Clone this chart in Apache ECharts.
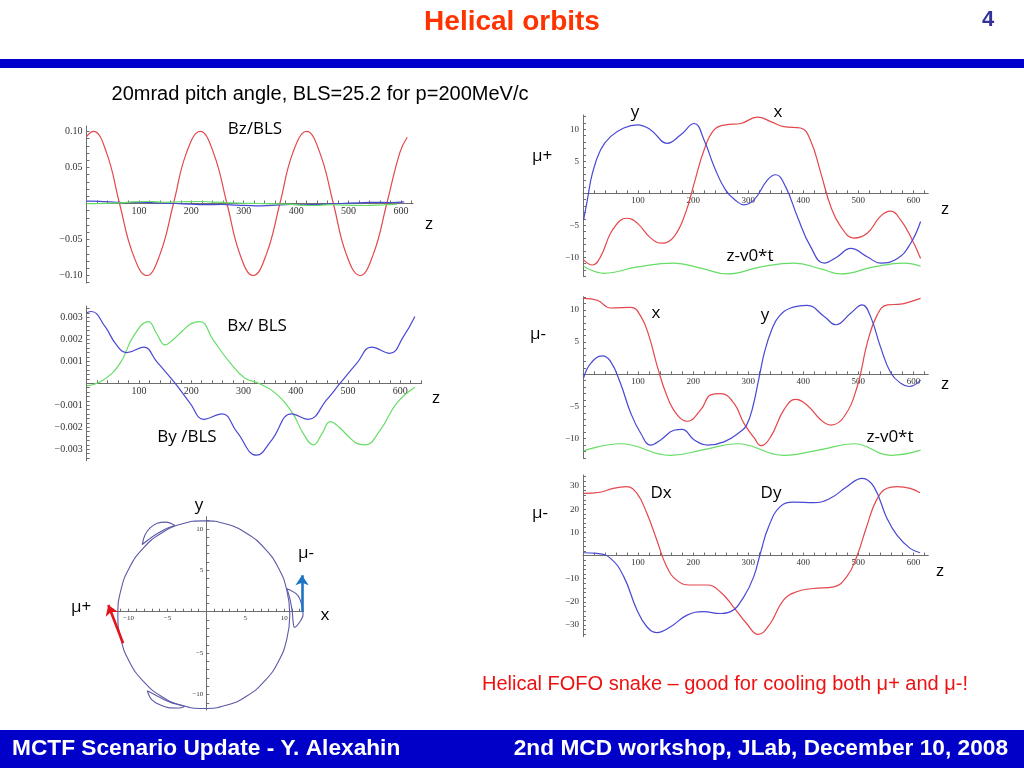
<!DOCTYPE html>
<html><head><meta charset="utf-8">
<script src="https://cdn.jsdelivr.net/npm/echarts@6/dist/echarts.min.js"></script>
<style>html,body{margin:0;padding:0;background:#fff}#c{width:1024px;height:768px}</style>
</head><body><div id="c"></div>
<script>
// ---------- data ----------
const zLabels = [100, 200, 300, 400, 500, 600];
const bzLabels = [-0.1, -0.05, 0.05, 0.1];
const bxLabels = [-0.003, -0.002, -0.001, 0.001, 0.002, 0.003];
const orbLabels = [-10, -5, 5, 10];
const dLabels = [-30, -20, -10, 10, 20, 30];

const bzData = [[0,0.093],[13,0.100],[38,0.071],[63,0],[89,-0.071],[115,-0.100],[140,-0.071],[166,0],[191,0.071],[217,0.100],[242,0.071],[268,0],[293,-0.071],[318,-0.100],[343,-0.071],[369,0],[394,0.071],[420,0.100],[445,0.071],[471,0],[496,-0.071],[522,-0.100],[547,-0.071],[573,0],[598,0.071],[612,0.092]];
const byData = [[0,0.0032],[9,0.00326],[35,0.00258],[57,0.00174],[77,0.00139],[109,0.00164],[134,0.00098],[169,0],[198,-0.00091],[224,-0.00164],[259,-0.00139],[287,-0.0022],[325,-0.00327],[354,-0.00258],[392,-0.00139],[424,-0.00164],[459,-0.00076],[485,0],[517,0.00091],[545,0.00164],[580,0.00136],[606,0.00212],[628,0.00303]];
const bxData = [[0,-0.00012],[32,0.00015],[64,0.00091],[89,0.00212],[118,0.0028],[134,0.00225],[150,0.00174],[166,0.002],[184,0.0024],[201,0.00272],[217,0.0028],[242,0.00197],[275,0.00091],[303,0.00023],[329,0],[361,-0.00045],[394,-0.00136],[414,-0.00227],[434,-0.0028],[450,-0.0023],[466,-0.00174],[483,-0.002],[500,-0.0024],[516,-0.00272],[532,-0.0028],[562,-0.00212],[593,-0.00091],[628,-0.00018]];

const mupY = [[1,-4.2],[8,-1.0],[17,3.1],[32,6.8],[50,8.85],[74,10.2],[99,10.7],[123,9.9],[153,7.8],[177,9.1],[202,10.9],[220,8.3],[238,4.2],[259,0.5],[280,-1.3],[292,-1.8],[311,-1.0],[335,2.1],[350,2.9],[368,1.0],[389,-3.6],[413,-8.3],[438,-10.9],[462,-9.9],[486,-8.6],[516,-9.9],[540,-10.9],[571,-10.2],[595,-7.8],[613,-4.4]];
const mupX = [[1,-10.4],[17,-11.2],[32,-9.9],[50,-6.25],[68,-4.2],[80,-3.9],[99,-4.7],[123,-7.0],[144,-7.8],[165,-6.8],[186,-3.1],[202,1.6],[220,6.8],[238,9.9],[259,10.7],[286,10.9],[317,11.9],[341,11.2],[365,10.4],[395,10.2],[413,8.3],[432,3.1],[450,-2.1],[468,-5.2],[492,-7.0],[516,-6.25],[540,-3.6],[559,-2.8],[577,-4.2],[595,-6.8],[613,-10.2]];
const mupL = [[1,-11.4],[38,-12.5],[99,-11.5],[165,-10.9],[214,-11.7],[262,-12.6],[323,-11.5],[383,-10.9],[432,-11.8],[468,-12.6],[528,-11.5],[583,-10.9],[613,-11.4]];

const mumX = [[1,11.8],[26,11.5],[50,10.3],[87,10.4],[105,9.0],[120,5.9],[135,1.2],[153,-3.5],[171,-6.3],[189,-7.3],[214,-5.5],[232,-3.2],[250,-3.0],[274,-4.5],[292,-7.6],[311,-9.9],[323,-11.1],[341,-9.7],[365,-5.5],[386,-3.9],[407,-4.8],[432,-7.1],[450,-7.9],[474,-6.6],[498,-1.9],[516,4.8],[534,9.2],[553,10.8],[577,10.9],[595,11.3],[613,11.8]];
const mumY = [[1,-0.6],[14,1.7],[35,2.85],[50,2.0],[68,-1.4],[87,-6.1],[105,-9.2],[123,-11.0],[141,-10.2],[165,-8.7],[180,-8.55],[202,-10.2],[226,-11.0],[256,-10.5],[286,-8.9],[297,-7.9],[308,-5.2],[320,-0.4],[330,3.6],[343,7.0],[356,9.0],[377,10.3],[407,10.7],[438,9.0],[459,7.7],[486,9.5],[507,10.8],[522,9.0],[540,4.3],[559,0.2],[577,-1.4],[592,-1.9],[613,-0.9]];
const mumL = [[1,-11.9],[68,-10.8],[159,-12.6],[220,-11.7],[280,-10.8],[365,-12.6],[432,-11.7],[492,-10.8],[559,-12.6],[613,-11.8]];

const dxData = [[1,26.8],[31,27.3],[55,29.0],[79,29.7],[98,26.8],[116,18.2],[134,6.7],[152,-4.8],[170,-10.6],[194,-12.7],[225,-12.7],[249,-15.6],[273,-22.1],[297,-29.3],[318,-34.0],[340,-29.3],[364,-19.2],[388,-15.6],[418,-14.2],[455,-13.5],[479,-9.1],[497,-0.5],[515,12.4],[533,24.0],[552,29.0],[570,29.7],[594,29.0],[612,27.1]];
const dyData = [[1,1.2],[25,0.9],[50,-1.2],[74,-9.1],[98,-23.5],[116,-30.7],[134,-33.2],[159,-30.7],[189,-25.7],[219,-24.2],[249,-25.0],[268,-24.2],[292,-17.8],[310,-9.1],[322,0.9],[337,12.4],[358,21.1],[383,23.0],[419,22.8],[449,24.7],[479,29.7],[507,33.3],[528,29.7],[552,16.0],[570,8.8],[594,3.1],[612,1.2]];

const orbitCircle = [[10.73,-0.36],[10.35,2.57],[9.25,5.31],[7.49,7.65],[5.21,9.45],[2.54,10.58],[-0.32,10.97],[-3.18,10.58],[-5.85,9.45],[-8.13,7.65],[-9.89,5.31],[-10.99,2.57],[-11.37,-0.36],[-10.99,-3.29],[-9.89,-6.03],[-8.13,-8.37],[-5.85,-10.17],[-3.18,-11.30],[-0.32,-11.69],[2.54,-11.30],[5.21,-10.17],[7.49,-8.37],[9.25,-6.03],[10.35,-3.29],[10.73,-0.36]];
const orbitLoopUpper = [[-4.04,10.41],[-5.18,10.81],[-6.31,10.69],[-7.23,10.11],[-7.90,9.22],[-8.24,8.11],[-7.46,8.68],[-6.64,9.24],[-5.77,9.72],[-4.88,10.13],[-4.04,10.41]];
const orbitLoopLower = [[-7.59,-9.55],[-7.06,-10.58],[-5.98,-11.25],[-4.76,-11.61],[-3.68,-11.63],[-2.82,-11.45],[-3.57,-11.24],[-4.50,-10.98],[-5.60,-10.54],[-6.67,-10.00],[-7.59,-9.55]];
const orbitLoopRight = [[10.35,2.78],[11.70,2.03],[12.28,0.77],[12.43,-0.36],[12.00,-1.24],[11.33,-1.89],[11.15,-1.18],[11.08,-0.36],[10.94,0.65],[10.67,1.83],[10.35,2.78]];
const arrowMuPlus = [[-10.7,-3.8],[-12.6,0.8]];
const arrowMuMinus = [[12.3,0.0],[12.3,4.4]];

// ---------- styling ----------
const AX = '#6e6e6e', TXT = '#333';
const RED = '#e4474c', BLUE = '#4848d4', GREEN = '#66dd66', ORB = '#5a5aa8';
const TF = '"Liberation Serif", serif';
function range(a, b, s) { const r = []; for (let i = 0; a + i * s <= b + s * 1e-6; i++) { const v = +(a + i * s).toFixed(6); if (Math.abs(v) > 1e-9) r.push(v); } return r; }
const mfmt = d => v => (v < 0 ? '\u2212' : '') + Math.abs(v).toFixed(d);

const grids = [
  {left:86.5, top:126, width:326.5, height:157},
  {left:86.7, top:306, width:335, height:154.7},
  {left:583, top:115, width:345.3, height:161.7},
  {left:583, top:296.7, width:345.3, height:161.6},
  {left:583, top:475, width:345.3, height:161.7},
  {left:108.3, top:516.7, width:195.3, height:193.3}
];

function axes(g, o) {
  const G = grids[g];
  // place each axis on the other axis' zero (Mathematica-style crossing axes)
  const xOff = -((0 - o.ymin) / (o.ymax - o.ymin)) * G.height;
  const yOff = -((0 - o.xmin) / (o.xmax - o.xmin)) * G.width;
  const x = {type:'value', gridIndex:g, min:o.xmin, max:o.xmax, position:'bottom', offset:xOff,
    axisLine:{show:true, onZero:false, lineStyle:{color:AX, width:1}},
    axisTick:{show:true, inside:true, length:3, customValues:o.xt, lineStyle:{color:AX, width:1}},
    axisLabel:{show:true, customValues:o.xl, formatter:o.xf, fontSize:o.fs, fontFamily:TF, color:TXT, margin:3},
    splitLine:{show:false}};
  const y = {type:'value', gridIndex:g, min:o.ymin, max:o.ymax, position:'left', offset:yOff,
    axisLine:{show:true, onZero:false, lineStyle:{color:AX, width:1}},
    axisTick:{show:true, inside:true, length:3, customValues:o.yt, lineStyle:{color:AX, width:1}},
    axisLabel:{show:true, customValues:o.yl, formatter:o.yf, fontSize:o.fs, fontFamily:TF, color:TXT, margin:o.ym || 4},
    splitLine:{show:false}};
  return [x, y];
}
const zTicks = range(20, 620, 20);
const A = [
  axes(0, {xmin:0, xmax:623, ymin:-0.1104, ymax:0.1076, xt:zTicks, xl:zLabels, xf:mfmt(0), yt:range(-0.11,0.10,0.01), yl:bzLabels, yf:mfmt(2), fs:10}),
  axes(1, {xmin:0, xmax:641, ymin:-0.00352, ymax:0.00351, xt:zTicks.concat([640]), xl:zLabels, xf:mfmt(0), yt:range(-0.0034,0.0034,0.0002), yl:bxLabels, yf:mfmt(3), fs:10}),
  axes(2, {xmin:0, xmax:627, ymin:-13.03, ymax:12.23, xt:zTicks, xl:zLabels, xf:mfmt(0), yt:range(-13,12,1), yl:orbLabels, yf:mfmt(0), fs:9}),
  axes(3, {xmin:0, xmax:627, ymin:-13.06, ymax:12.06, xt:zTicks, xl:zLabels, xf:mfmt(0), yt:range(-13,12,1), yl:orbLabels, yf:mfmt(0), fs:9}),
  axes(4, {xmin:0, xmax:627, ymin:-35.0, ymax:34.74, xt:zTicks, xl:zLabels, xf:mfmt(0), yt:range(-34,34,2), yl:dLabels, yf:mfmt(0), fs:9}),
  axes(5, {xmin:-12.6, xmax:12.5, ymin:-11.87, ymax:11.47, xt:range(-12,12,1), xl:orbLabels, xf:mfmt(0), yt:range(-11,11,1), yl:orbLabels, yf:mfmt(0), fs:7, ym:3})
];

function ln(g, data, color, extra) {
  return Object.assign({type:'line', xAxisIndex:g, yAxisIndex:g, data:data, showSymbol:false, symbol:'none',
    smooth:0.45, lineStyle:{color:color, width:1.2}, itemStyle:{color:color}, silent:true, animation:false, z:3}, extra || {});
}
function arrow(data, color) {
  return {type:'lines', coordinateSystem:'cartesian2d', xAxisIndex:5, yAxisIndex:5, clip:false, silent:true,
    symbol:['none','arrow'], symbolSize:10, animation:false, z:5,
    lineStyle:{color:color, width:2.6, opacity:1, curveness:0}, data:[{coords:data}]};
}
const p1 = v => v[0] <= 612;

const series = [
  ln(0, bzData, RED), ln(0, byData.filter(p1), BLUE), ln(0, bxData.filter(p1), GREEN),
  ln(1, bxData, GREEN), ln(1, byData, BLUE),
  ln(2, mupL, GREEN), ln(2, mupX, RED), ln(2, mupY, BLUE),
  ln(3, mumL, GREEN), ln(3, mumX, RED), ln(3, mumY, BLUE),
  ln(4, dxData, RED), ln(4, dyData, BLUE),
  ln(5, orbitCircle, ORB, {smooth:0.5, lineStyle:{color:ORB, width:1.1}}),
  ln(5, orbitLoopUpper, ORB, {smooth:0.35, clip:false, lineStyle:{color:ORB, width:1.1}}),
  ln(5, orbitLoopLower, ORB, {smooth:0.35, clip:false, lineStyle:{color:ORB, width:1.1}}),
  ln(5, orbitLoopRight, ORB, {smooth:0.35, clip:false, lineStyle:{color:ORB, width:1.1}}),
  arrow(arrowMuPlus, '#e3141c'), arrow(arrowMuMinus, '#1c74c4')
];

// ---------- slide texts ----------
const AF = '17px "Open Sans", sans-serif';
const FOOT = 'bold 22.7px "Liberation Sans", sans-serif';
const texts = [
  ['Helical orbits', 512, 22, 'bold 28px "Liberation Sans", sans-serif', '#ff3300', 'center'],
  ['4', 988, 20, 'bold 22px "Liberation Sans", sans-serif', '#333399', 'center'],
  ['20mrad pitch angle, BLS=25.2 for p=200MeV/c', 320, 94, '20px "Liberation Sans", sans-serif', '#000', 'center'],
  ['Bz/BLS', 255, 129, AF, '#000', 'center'],
  ['z', 429, 224, AF, '#000', 'center'],
  ['Bx/ BLS', 257, 326, AF, '#000', 'center'],
  ['z', 436, 398, AF, '#000', 'center'],
  ['By /BLS', 187, 437, AF, '#000', 'center'],
  ['y', 199, 505, AF, '#000', 'center'],
  ['\u03bc-', 306, 553, AF, '#000', 'center'],
  ['\u03bc+', 81, 607, AF, '#000', 'center'],
  ['x', 325, 615, AF, '#000', 'center'],
  ['y', 635, 112, AF, '#000', 'center'],
  ['x', 778, 112, AF, '#000', 'center'],
  ['\u03bc+', 542, 156, AF, '#000', 'center'],
  ['z', 945, 209, AF, '#000', 'center'],
  ['z-v0*t', 750, 256, AF, '#000', 'center'],
  ['x', 656, 313, AF, '#000', 'center'],
  ['y', 765, 315, AF, '#000', 'center'],
  ['\u03bc-', 538, 334, AF, '#000', 'center'],
  ['z', 945, 384, AF, '#000', 'center'],
  ['z-v0*t', 890, 437, AF, '#000', 'center'],
  ['Dx', 661, 493, AF, '#000', 'center'],
  ['Dy', 771, 493, AF, '#000', 'center'],
  ['\u03bc-', 540, 513, AF, '#000', 'center'],
  ['z', 940, 571, AF, '#000', 'center'],
  ['Helical FOFO snake \u2013 good for cooling both \u03bc+ and \u03bc-!', 725, 684, '20px "Liberation Sans", sans-serif', '#ee1111', 'center'],
  ['MCTF Scenario Update - Y. Alexahin', 12, 749, FOOT, '#ffffff', 'left'],
  ['2nd MCD workshop, JLab, December 10, 2008', 1008, 749, FOOT, '#ffffff', 'right']
];
const graphic = [
  {type:'rect', shape:{x:0, y:59, width:1024, height:9}, style:{fill:'#0000cc'}, z:-1, silent:true},
  {type:'rect', shape:{x:0, y:730, width:1024, height:38}, style:{fill:'#0000c8'}, z:-1, silent:true}
].concat(texts.map(t => ({type:'text', x:t[1], y:t[2], silent:true, z:10,
  style:{text:t[0], font:t[3], fill:t[4], align:t[5], verticalAlign:'middle'}})));

const chart = echarts.init(document.getElementById('c'), null, {renderer:'canvas'});
chart.setOption({
  animation:false,
  backgroundColor:'#ffffff',
  grid: grids.map(g => Object.assign({outerBoundsMode:'none'}, g)),
  xAxis: A.map(a => a[0]),
  yAxis: A.map(a => a[1]),
  series: series,
  graphic: graphic
});
</script></body></html>
